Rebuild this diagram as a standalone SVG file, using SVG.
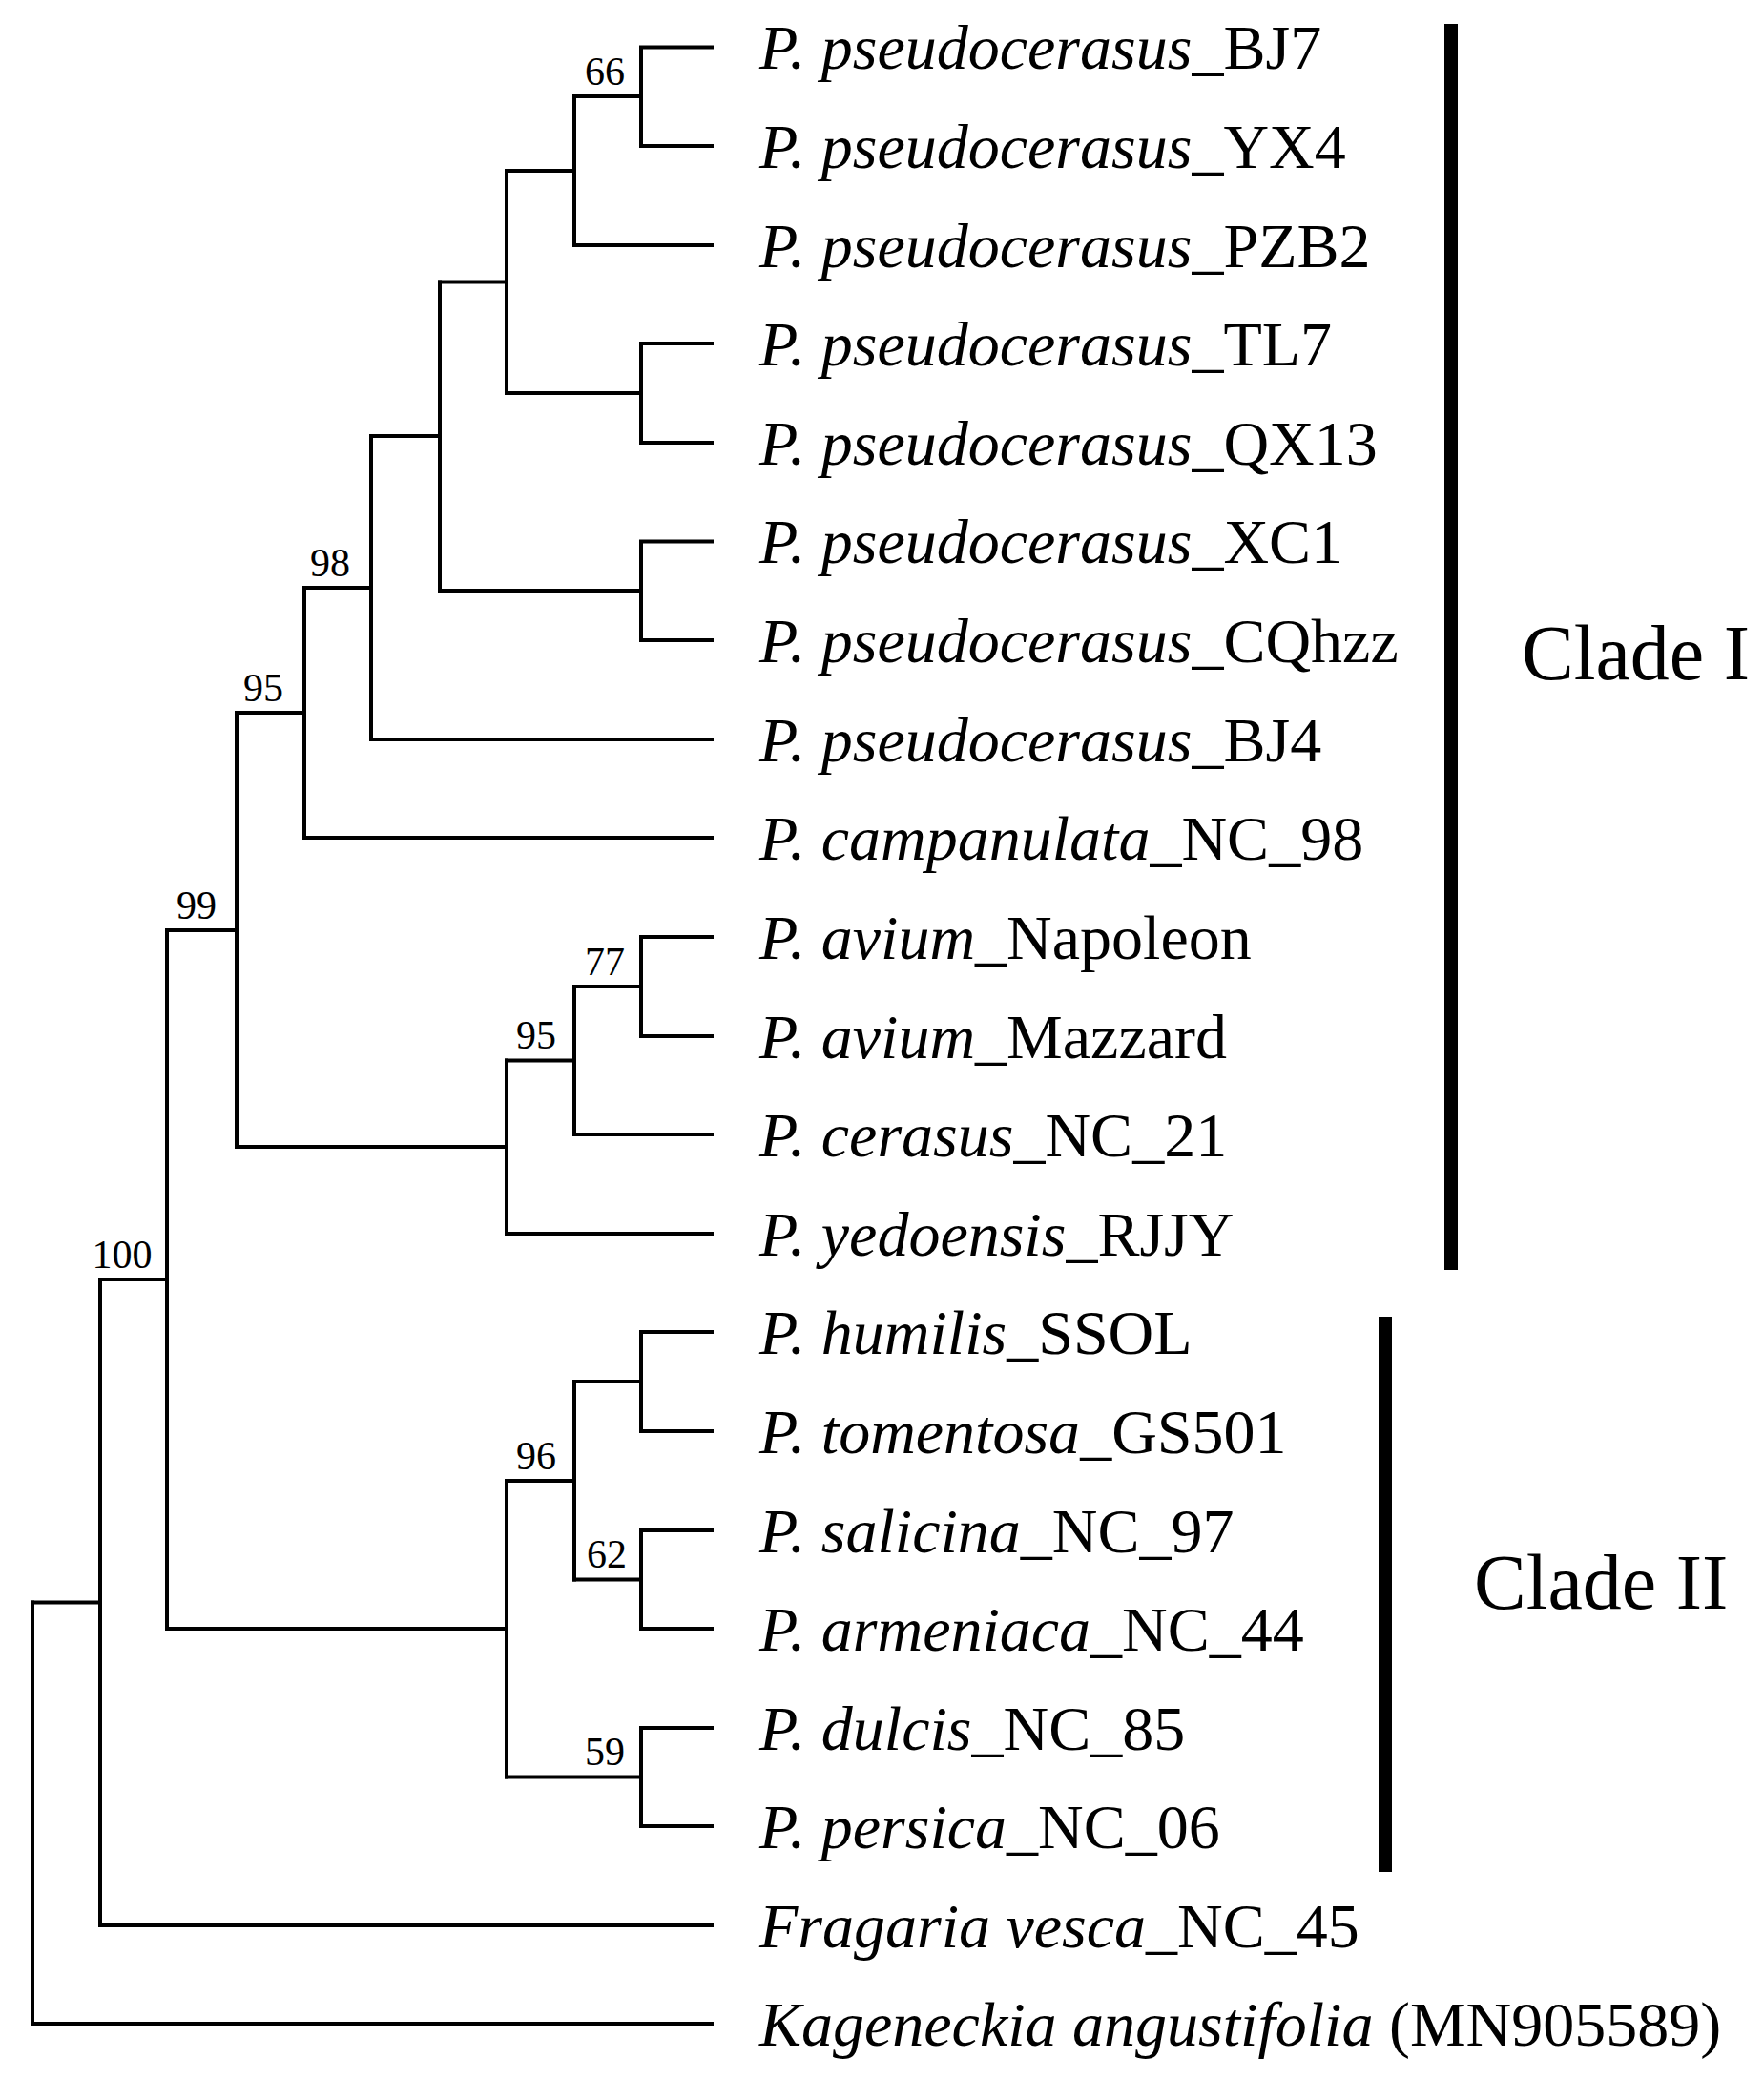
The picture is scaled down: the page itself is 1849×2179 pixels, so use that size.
<svg xmlns="http://www.w3.org/2000/svg" width="1849" height="2179" viewBox="0 0 1849 2179">
<style>
.b{fill:none;stroke:#000;stroke-width:4;stroke-linecap:square}
.t{font-family:"Liberation Serif",serif;font-size:66px}
.t tspan.i{font-style:italic}
.s{font-family:"Liberation Serif",serif;font-size:42px;text-anchor:middle}
.c{font-family:"Liberation Serif",serif;font-size:82px}
</style>
<rect width="1849" height="2179" fill="#fff"/>
<g id="connectors">
<path class="b" d="M672,49.5V153M672,101H602M672,49.5H746M672,153H746"/>
<path class="b" d="M602,101V257H746M602,179H531"/>
<path class="b" d="M672,360V464M672,360H746M672,464H746M672,412H531"/>
<path class="b" d="M531,179V412M531,295.5H461"/>
<path class="b" d="M672,567.5V671M672,567.5H746M672,671H746M672,619H461"/>
<path class="b" d="M461,295.5V619M461,457H389"/>
<path class="b" d="M389,457V775H746M389,616H319"/>
<path class="b" d="M319,616V878H746M319,747H248"/>
<path class="b" d="M672,982V1086M672,982H746M672,1086H746M672,1034H602"/>
<path class="b" d="M602,1034V1189H746M602,1111.5H531"/>
<path class="b" d="M531,1111.5V1293H746M531,1202H248"/>
<path class="b" d="M248,747V1202M248,975H175"/>
<path class="b" d="M672,1396V1500M672,1396H746M672,1500H746M672,1448H602"/>
<path class="b" d="M672,1604V1707M672,1604H746M672,1707H746M672,1655.5H602"/>
<path class="b" d="M602,1448V1655.5M602,1552H531"/>
<path class="b" d="M672,1811V1914M672,1811H746M672,1914H746M672,1862.5H531"/>
<path class="b" d="M531,1552V1862.5M531,1707H175"/>
<path class="b" d="M175,975V1707M175,1341H105"/>
<path class="b" d="M105,1341V2018H746M105,1679.5H34"/>
<path class="b" d="M34,1679.5V2121H746"/>
</g>
<g id="supports">
<text class="s" x="634" y="89">66</text>
<text class="s" x="346" y="604">98</text>
<text class="s" x="276" y="735">95</text>
<text class="s" x="206" y="963">99</text>
<text class="s" x="128" y="1329">100</text>
<text class="s" x="634" y="1022">77</text>
<text class="s" x="562" y="1099">95</text>
<text class="s" x="562" y="1540">96</text>
<text class="s" x="636" y="1643">62</text>
<text class="s" x="634" y="1850">59</text>
</g>
<g id="leaves">
<text class="t" x="796" y="72"><tspan class="i">P. pseudocerasus</tspan>_BJ7</text>
<text class="t" x="796" y="176"><tspan class="i">P. pseudocerasus</tspan>_YX4</text>
<text class="t" x="796" y="280"><tspan class="i">P. pseudocerasus</tspan>_PZB2</text>
<text class="t" x="796" y="383"><tspan class="i">P. pseudocerasus</tspan>_TL7</text>
<text class="t" x="796" y="487"><tspan class="i">P. pseudocerasus</tspan>_QX13</text>
<text class="t" x="796" y="590"><tspan class="i">P. pseudocerasus</tspan>_XC1</text>
<text class="t" x="796" y="694"><tspan class="i">P. pseudocerasus</tspan>_CQhzz</text>
<text class="t" x="796" y="798"><tspan class="i">P. pseudocerasus</tspan>_BJ4</text>
<text class="t" x="796" y="901"><tspan class="i">P. campanulata</tspan>_NC_98</text>
<text class="t" x="796" y="1005"><tspan class="i">P. avium</tspan>_Napoleon</text>
<text class="t" x="796" y="1109"><tspan class="i">P. avium</tspan>_Mazzard</text>
<text class="t" x="796" y="1212"><tspan class="i">P. cerasus</tspan>_NC_21</text>
<text class="t" x="796" y="1316"><tspan class="i">P. yedoensis</tspan>_RJJY</text>
<text class="t" x="796" y="1419"><tspan class="i">P. humilis</tspan>_SSOL</text>
<text class="t" x="796" y="1523"><tspan class="i">P. tomentosa</tspan>_GS501</text>
<text class="t" x="796" y="1627"><tspan class="i">P. salicina</tspan>_NC_97</text>
<text class="t" x="796" y="1730"><tspan class="i">P. armeniaca</tspan>_NC_44</text>
<text class="t" x="796" y="1834"><tspan class="i">P. dulcis</tspan>_NC_85</text>
<text class="t" x="796" y="1937"><tspan class="i">P. persica</tspan>_NC_06</text>
<text class="t" x="796" y="2041"><tspan class="i">Fragaria vesca</tspan>_NC_45</text>
<text class="t" x="796" y="2144"><tspan class="i">Kageneckia angustifolia</tspan> (MN905589)</text>
</g>
<g id="clades">
<rect x="1514" y="25" width="14" height="1306" fill="#000"/>
<rect x="1445" y="1380" width="14" height="582" fill="#000"/>
<text class="c" x="1595" y="712">Clade I</text>
<text class="c" x="1545" y="1686">Clade II</text>
</g>
</svg>
